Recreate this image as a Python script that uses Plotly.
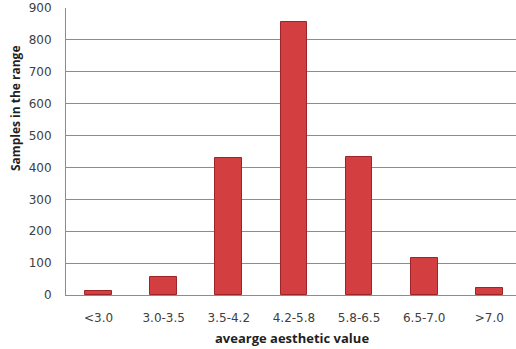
import plotly.graph_objects as go

# Distribution of samples over average aesthetic value ranges
categories = ["<3.0", "3.0-3.5", "3.5-4.2", "4.2-5.8", "5.8-6.5", "6.5-7.0", ">7.0"]
samples = [12, 57, 430, 855, 433, 117, 21]
y_ticks = [0, 100, 200, 300, 400, 500, 600, 700, 800, 900]

W, H = 516, 349
L, T, B = 66, 8, 54

fig = go.Figure()
fig.add_trace(go.Bar(
    x=list(range(len(categories))),
    y=samples,
    width=0.41,
    marker=dict(color="#D33F40", line=dict(color="#9E2527", width=1)),
    hoverinfo="y",
))

fig.update_layout(
    width=W, height=H,
    margin=dict(l=L, r=0, t=T, b=B),
    paper_bgcolor="white",
    plot_bgcolor="white",
    showlegend=False,
    bargap=0,
    font=dict(family="DejaVu Sans", color="#404040"),
    xaxis=dict(
        range=[-0.5, 6.41],
        tickmode="array",
        tickvals=list(range(len(categories))),
        ticktext=categories,
        tickfont=dict(family="DejaVu Sans", size=12, color="#404040"),
        showgrid=False,
        showline=True, linecolor="#8C8C8C", linewidth=1,
        ticks="outside", ticklen=12, tickcolor="rgba(0,0,0,0)",
        zeroline=False,
    ),
    yaxis=dict(
        range=[0, 900],
        tickmode="array",
        tickvals=y_ticks,
        tickfont=dict(family="DejaVu Sans", size=12, color="#404040"),
        showgrid=True, gridcolor="#8C8C8C", gridwidth=1,
        showline=True, linecolor="#8C8C8C", linewidth=1,
        ticks="outside", ticklen=11, tickcolor="rgba(0,0,0,0)",
        zeroline=False,
    ),
)

# Axis titles
fig.add_annotation(
    text="<b>avearge aesthetic value</b>",
    xref="paper", yref="paper",
    x=(292 - L) / (W - L), y=-(338 - (H - B)) / (H - B - T),
    xanchor="center", yanchor="middle", showarrow=False,
    font=dict(family="Open Sans", size=13, color="#1F1F1F"),
)
fig.add_annotation(
    text="<b>Samples in the range</b>",
    xref="paper", yref="paper",
    x=-(L - 15) / (W - L), y=((H - B) - 108) / (H - B - T),
    xanchor="center", yanchor="middle", showarrow=False, textangle=-90,
    font=dict(family="Open Sans", size=12, color="#1F1F1F"),
)

fig.write_html("out.html")
